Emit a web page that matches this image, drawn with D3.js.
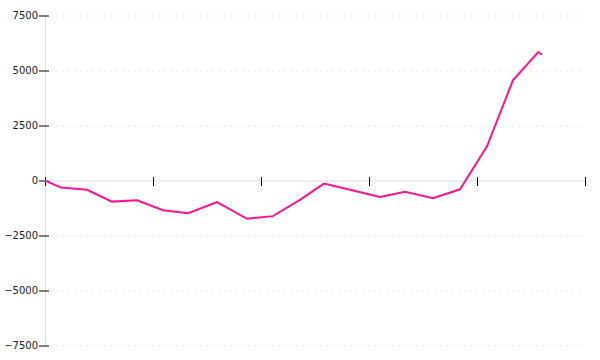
<!DOCTYPE html>
<html>
<head>
<meta charset="utf-8">
<script src="https://cdn.jsdelivr.net/npm/d3@7/dist/d3.min.js"></script>
<style>
  body { margin: 0; background: #fff; }
  text { font-family: "DejaVu Sans", sans-serif; }
</style>
</head>
<body>
<script>
// x positions (axis units, ticks every 4) and values
const periods = [0, 0.59, 1.56, 2.48, 3.41, 4.37, 5.3, 6.37, 7.48, 8.44, 9.44,
  10.33, 11.37, 12.41, 13.33, 14.37, 15.37, 16.37, 17.33, 18.26, 18.41];
const values = [0, -320, -420, -960, -900, -1350, -1490, -980, -1740, -1620, -880,
  -140, -440, -750, -510, -810, -400, 1550, 4550, 5830, 5720];
const xTicks = [0, 4, 8, 12, 16, 20];
const yTicks = [-7500, -5000, -2500, 0, 2500, 5000, 7500];

const data = periods.map((p, i) => ({ x: p, v: values[i] }));

const margin = { top: 15.5, right: 15, bottom: 14.5, left: 45 };
const width = 600 - margin.left - margin.right;
const height = 360 - margin.top - margin.bottom;

const svg = d3.select("body")
  .append("svg")
  .attr("width", 600)
  .attr("height", 360);

const g = svg.append("g")
  .attr("transform", `translate(${margin.left},${margin.top})`);

const xscale = d3.scaleLinear().domain([0, 20]).range([0, width]);
const yscale = d3.scaleLinear().domain([-7500, 7500]).range([height, 0]);

// dashed grid lines
g.append("g")
  .selectAll("line")
  .data(yTicks.filter(d => d !== 0))
  .join("line")
  .attr("x1", 5)
  .attr("x2", width - 3)
  .attr("y1", d => Math.round(yscale(d)) + 0.5)
  .attr("y2", d => Math.round(yscale(d)) + 0.5)
  .attr("stroke", "#e8e8e8")
  .attr("stroke-dasharray", "2,4");

// y axis
const g_yaxis = g.append("g")
  .call(d3.axisLeft(yscale).tickValues(yTicks).tickFormat(d3.format("d")).tickSize(6).tickPadding(1));
g_yaxis.select(".domain").attr("stroke", "#ddd").attr("d", `M0.5,0V${height}`);
g_yaxis.selectAll(".tick line").attr("x1", -6).attr("x2", 4).attr("stroke", "#000");
g_yaxis.selectAll(".tick text")
  .attr("fill", "#222")
  .style("font-size", "10px");
g_yaxis.selectAll(".tick").attr("transform", d => `translate(0,${Math.round(yscale(d)) + 0.5})`);

// x axis at zero
const g_xaxis = g.append("g")
  .attr("transform", `translate(0,${Math.round(yscale(0)) + 0.5})`)
  .call(d3.axisBottom(xscale).tickValues(xTicks).tickFormat("").tickSize(4));
g_xaxis.select(".domain").attr("stroke", "#ddd").attr("d", `M0,0H${width}`);
g_xaxis.selectAll(".tick line").attr("y1", -4).attr("y2", 5).attr("stroke", "#000");

// series line
const line = d3.line()
  .x(d => xscale(d.x))
  .y(d => yscale(d.v));

g.append("path")
  .datum(data)
  .attr("fill", "none")
  .attr("stroke", "#ff1493")
  .attr("stroke-width", 2)
  .attr("d", line);
</script>
</body>
</html>
